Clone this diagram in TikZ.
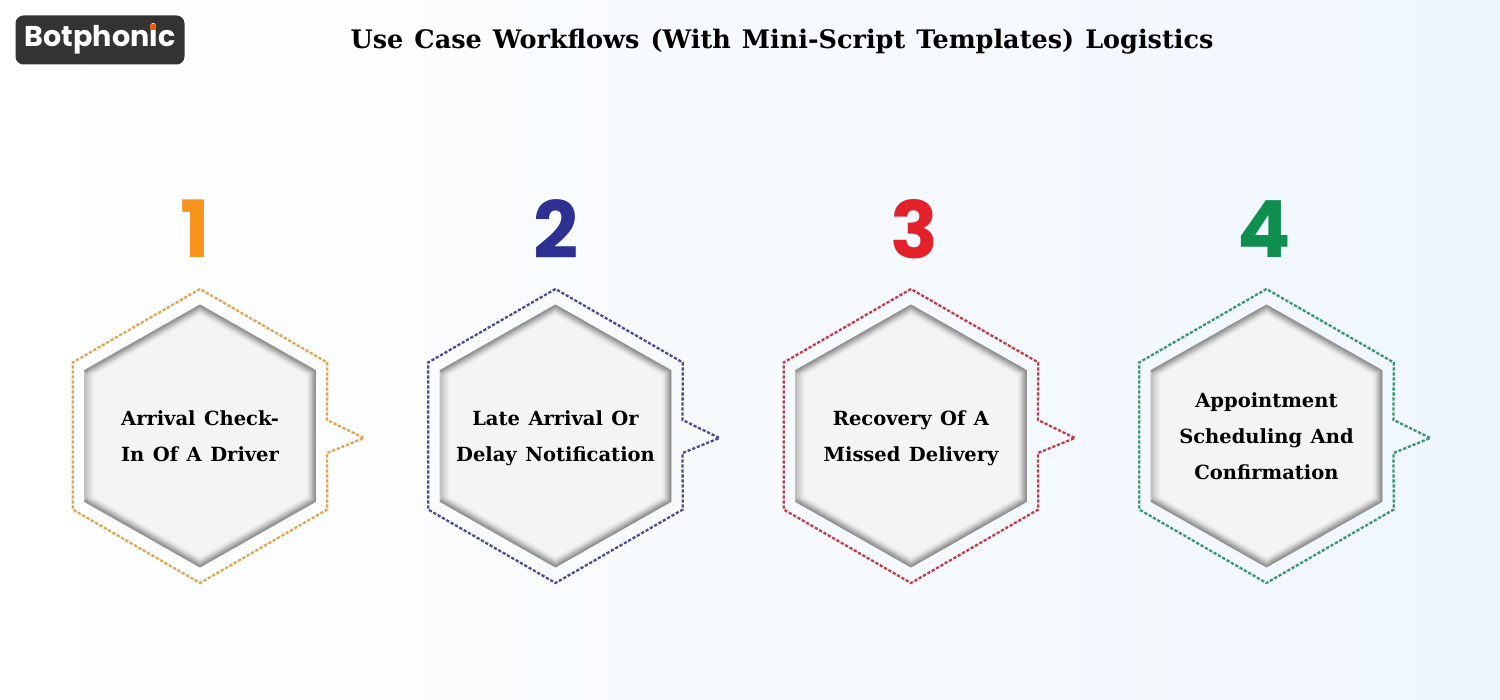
\documentclass[tikz,border=0pt]{standalone}
\usepackage{fontspec}
\usepackage{xcolor}
\usetikzlibrary{shapes.geometric}
\setmainfont{DejaVu Serif}[WordSpace=1.25]
\newfontfamily\logofont{Poppins}
\newfontfamily\numfont{Poppins}
\definecolor{bgmid}{HTML}{FAFCFF}
\definecolor{bgright}{HTML}{EFF6FD}
\definecolor{logobg}{HTML}{333333}
\definecolor{logodot}{HTML}{E0651A}
\definecolor{hexfill}{HTML}{F4F4F5}
\definecolor{numA}{HTML}{F7941D}
\definecolor{numB}{HTML}{2E3192}
\definecolor{numC}{HTML}{E3212B}
\definecolor{numD}{HTML}{0F8F4F}
\definecolor{dotA}{HTML}{E2A54E}
\definecolor{dotB}{HTML}{4A4C94}
\definecolor{dotC}{HTML}{C93A48}
\definecolor{dotD}{HTML}{3C9673}
\tikzstyle{inner hex} = [regular polygon, regular polygon sides=6, shape border rotate=30, minimum size=131.5pt, inner sep=0pt, outer sep=0pt, xscale=1.018]
\tikzstyle{outer hex} = [regular polygon, regular polygon sides=6, shape border rotate=30, minimum size=147pt, inner sep=0pt, outer sep=0pt]
\tikzstyle{label} = [text centered, align=center, inner sep=0pt, font=\bfseries\fontsize{9.75}{18}\selectfont, execute at begin node=\strut, execute at end node=\strut]
\tikzstyle{number} = [font=\numfont\bfseries\fontsize{39.5}{40}\selectfont, inner sep=0pt]
\tikzstyle{dotted edge} = [line width=1.15pt, dash pattern=on 1.6pt off 0.9pt]
% one card: inner hexagon with blurred rim, dotted outline with a pointer
\newcommand{\hexcard}[2]{
    \node (#1o) [outer hex] at (#1.center) {};
    \fill [hexfill] (#1.corner 1) -- (#1.corner 2) -- (#1.corner 3) -- (#1.corner 4) -- (#1.corner 5) -- (#1.corner 6) -- cycle;
    \begin{scope}
        \clip (#1.corner 1) -- (#1.corner 2) -- (#1.corner 3) -- (#1.corner 4) -- (#1.corner 5) -- (#1.corner 6) -- cycle;
        \foreach \w in {9,7,5,3.5,2}
            \draw [black, opacity=0.045, line width=\w pt] (#1.corner 1) -- (#1.corner 2) -- (#1.corner 3) -- (#1.corner 4) -- (#1.corner 5) -- (#1.corner 6) -- cycle;
        \foreach \w in {6,4,2.5,1.2}
            \draw [black, opacity=0.065, line width=\w pt] (#1.corner 2) -- (#1.corner 1) -- (#1.corner 6) -- (#1.corner 5) -- (#1.corner 4) -- (#1.corner 3);
    \end{scope}
    \coordinate (#1up) at ([xshift=63.5pt, yshift=8pt]#1.center);
    \coordinate (#1tip) at ([xshift=82pt, yshift=-1pt]#1.center);
    \coordinate (#1down) at ([xshift=63.5pt, yshift=-8.5pt]#1.center);
    \draw [dotted edge, #2] (#1o.corner 1) -- (#1o.corner 2) -- (#1o.corner 3) -- (#1o.corner 4) -- (#1o.corner 5) -- (#1down) -- (#1tip) -- (#1up) -- (#1o.corner 6) -- cycle;
}
\begin{document}
\begin{tikzpicture}[node distance=174.6pt]
    \shade [shading angle=80, left color=white, middle color=bgmid, right color=bgright] (0pt,0pt) rectangle (750pt,-350pt);
    \useasboundingbox (0pt,0pt) rectangle (750pt,-350pt);
    % header
    \node (logo) [rectangle, rounded corners=4pt, fill=logobg, minimum width=84.5pt, minimum height=24.5pt, inner sep=0pt] at (50pt,-20pt) {};
    \node (logotext) [text=white, font=\logofont\bfseries\fontsize{14.3}{14.3}\selectfont, inner sep=0pt] at ([yshift=0.5pt]logo.center) {Botphonic};
    \node (logodot) [fill=logodot, minimum size=2.8pt, inner sep=0pt] at (76.6pt,-13.4pt) {};
    \node (title) [font=\bfseries\fontsize{12.75}{16}\selectfont, inner sep=0pt] at (391pt,-21pt) {Use Case Workflows (With Mini-Script Templates) Logistics};
    % hexagons
    \node (hexA) [inner hex] at (100pt,-218pt) {};
    \node (hexB) [inner hex, right of=hexA] {};
    \node (hexC) [inner hex, right of=hexB] {};
    \node (hexD) [inner hex, right of=hexC] {};
    \hexcard{hexA}{dotA}
    \hexcard{hexB}{dotB}
    \hexcard{hexC}{dotC}
    \hexcard{hexD}{dotD}
    % numbers
    \node (numOne) [number, text=numA] at ([xshift=-2.5pt, yshift=103.5pt]hexA.center) {1};
    \node (numTwo) [number, text=numB] at ([xshift=0.5pt, yshift=103.5pt]hexB.center) {2};
    \node (numThree) [number, text=numC] at ([xshift=1.5pt, yshift=103.5pt]hexC.center) {3};
    \node (numFour) [number, text=numD] at ([xshift=-1.25pt, yshift=103.5pt]hexD.center) {4};
    % labels
    \node (textA) [label] at ([yshift=-2.7pt]hexA.center) {Arrival Check-\\In Of A Driver};
    \node (textB) [label] at ([yshift=-2.7pt]hexB.center) {Late Arrival Or\\Delay Notification};
    \node (textC) [label] at ([yshift=-2.7pt]hexC.center) {Recovery Of A\\Missed Delivery};
    \node (textD) [label] at ([yshift=-2.7pt]hexD.center) {Appointment\\Scheduling And\\Confirmation};
\end{tikzpicture}
\end{document}
